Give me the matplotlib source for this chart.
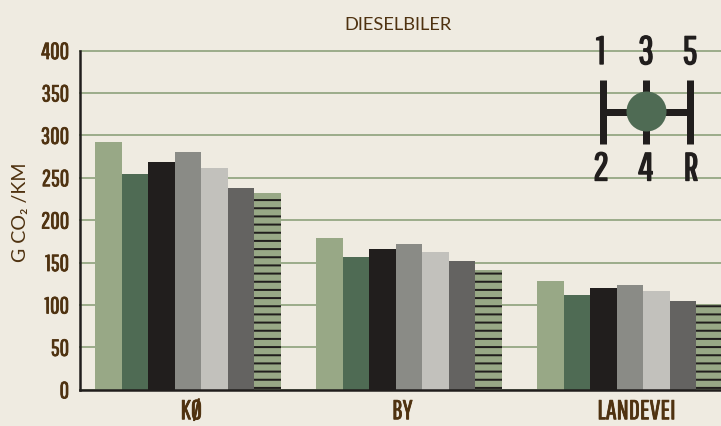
import matplotlib
matplotlib.use('Agg')
import matplotlib.pyplot as plt
import matplotlib.patheffects as pe
import numpy as np

categories = ['KØ', 'BY', 'LANDEVEI']
yticks = [0, 50, 100, 150, 200, 250, 300, 350, 400]
kø = [292, 254, 268, 280, 261, 238, 232]
by = [179, 156, 166, 172, 162, 152, 141]
landevei = [128, 112, 120, 123.5, 116.5, 104.5, 101]
colors = ['#98A886', '#4F6B54', '#211E1D', '#8A8B86', '#C2C1BC', '#646361', '#98A886']

W, H, D = 721, 426, 98
BG = '#EFEBE1'
BROWN = '#4F3210'
NARROW = ['Pathway Gothic One', 'League Gothic', 'Bebas Neue', 'DejaVu Sans']
LIGHT = ['Lato', 'DejaVu Sans']

plt.rcParams['hatch.linewidth'] = 2 * 72 / D
fig = plt.figure(figsize=(W / D, H / D), dpi=D, facecolor=BG)
# 轴的位置按像素给出
ax = fig.add_axes([80 / W, 1 - 389.7 / H, (W - 80) / W, (389.7 - 50.5) / H], facecolor=BG)

values = np.array([kø, by, landevei])
width = 26.5 / 221
x = np.arange(3)
for i in range(7):
    off = (i - 3) * width
    if i == 6:
        ax.bar(x + off, values[:, i], width, color=colors[i], edgecolor='#211E1D',
               hatch='--', linewidth=0, zorder=3)
    else:
        ax.bar(x + off, values[:, i], width, color=colors[i], zorder=3)

ax.set_xlim((80 - 188) / 221, (W - 188) / 221)
ax.set_ylim(0, 400)
ax.set_yticks(yticks)
ax.set_yticklabels(yticks, family=NARROW, fontsize=17, color=BROWN)
ax.set_xticks([0.015, -0.03 + 1, 0.03 + 2])
ax.set_xticklabels(categories, family=NARROW, fontsize=20, color=BROWN)
ax.tick_params(length=0)
ax.tick_params(axis='y', pad=8)
ax.tick_params(axis='x', pad=7)
# 描边加粗窄字体
for t in ax.get_yticklabels() + ax.get_xticklabels():
    t.set_path_effects([pe.withStroke(linewidth=0.6, foreground=BROWN)])
ax.grid(axis='y', color='#9DAD8C', lw=2 * 72 / D, zorder=1, clip_on=False)
ax.set_axisbelow(True)
for s in ['top', 'right']:
    ax.spines[s].set_visible(False)
for s in ['left', 'bottom']:
    ax.spines[s].set_color('#211E1D')
    ax.spines[s].set_linewidth(2.5 * 72 / D)
    ax.spines[s].set_zorder(4)

fig.text(398.5 / W, 1 - 24.5 / H, 'DIESELBILER', ha='center', va='center', family=LIGHT,
         fontsize=13.5, color=BROWN)
fig.text(21 / W, 1 - 212.5 / H, 'G CO₂ /KM', rotation=90, ha='center', va='center', family=LIGHT,
         fontsize=14.4, color=BROWN)

# 变速箱图标
icon = fig.add_axes([0, 0, 1, 1], facecolor='none')
icon.set_xlim(0, W)
icon.set_ylim(H, 0)
icon.axis('off')
black = '#211E1D'
lw = 7 * 72 / D
icon.plot([603, 603], [80, 144], color=black, lw=lw, solid_capstyle='butt')
icon.plot([689.7, 689.7], [80, 144], color=black, lw=lw, solid_capstyle='butt')
icon.plot([646, 646], [80, 144], color=black, lw=lw, solid_capstyle='butt')
icon.plot([603, 689.7], [111.5, 111.5], color=black, lw=lw, solid_capstyle='butt')
icon.scatter([646], [110.7], s=(40 * 72 / D) ** 2, color='#4F6B54', linewidths=0, zorder=5)
for lab, px, py in [('1', 601, 53), ('3', 646, 53), ('5', 690, 53), ('2', 601, 169.5), ('4', 646, 169.5), ('R', 691, 169.5)]:
    icon.text(px, py, lab, ha='center', va='center', family=NARROW, fontsize=29, color=black,
              path_effects=[pe.withStroke(linewidth=1.0, foreground=black)])

fig.savefig('out.png', dpi=D, facecolor=BG)
